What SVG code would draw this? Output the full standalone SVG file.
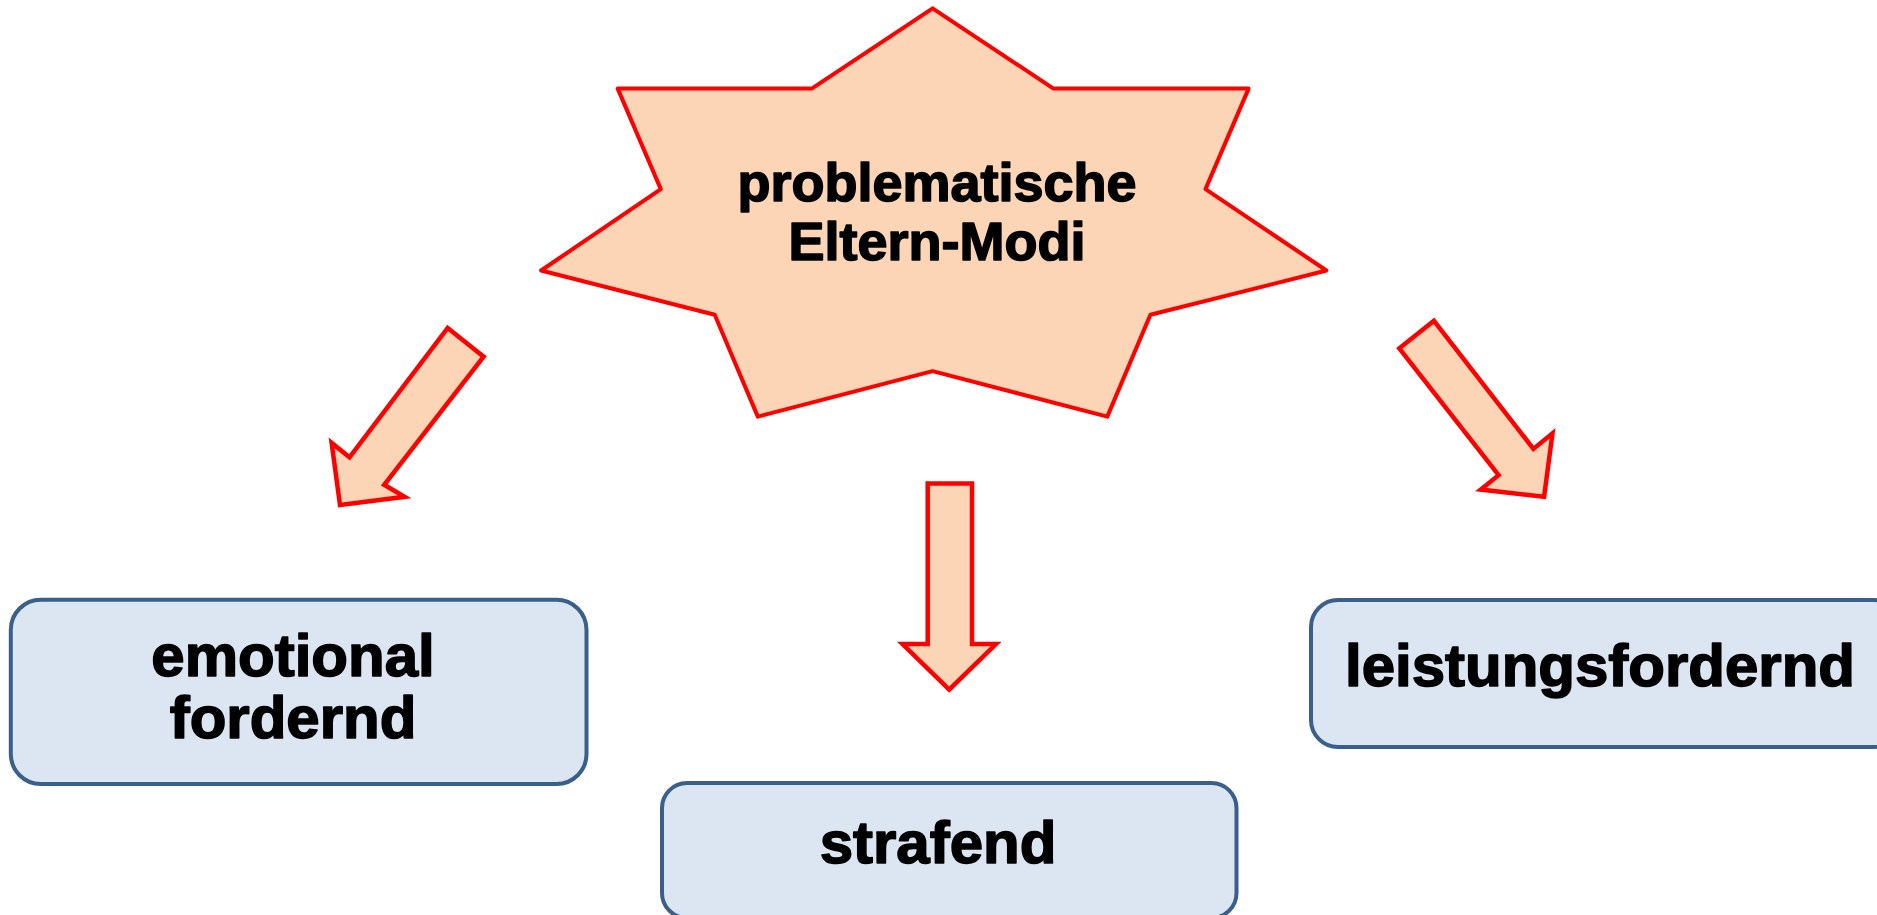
<svg xmlns="http://www.w3.org/2000/svg" width="1877" height="915" viewBox="0 0 1877 915">
  <style>
    .burst { fill: #FBD5B5; stroke: #FF0000; stroke-width: 4; stroke-linejoin: round; }
    .arrow { fill: #FBD5B5; stroke: #FF0000; stroke-width: 4.5; stroke-linejoin: miter; }
    .box { fill: #DCE6F2; stroke: #3A5F8B; stroke-width: 4; }
    .label { font-family: "Liberation Sans", Arial, sans-serif; font-weight: bold; fill: #000000; stroke: #000000; stroke-width: 1.6; stroke-linejoin: round; text-anchor: middle; }
  </style>
  <rect width="1877" height="915" fill="#FFFFFF"/>

  <!-- central burst -->
  <g id="node-center">
    <polygon class="burst" points="932.6,8.4 1053.5,88.6 1248.6,88.6 1205.5,189.1 1326.4,270.5 1150.4,314.8 1107.3,416.6 932.6,371.1 757.8,416.6 714.7,314.8 541.1,270.5 660.8,189.1 617.7,88.6 811.7,88.6"/>
    <text class="label" x="937" y="201" font-size="54">problematische</text>
    <text class="label" x="937" y="260" font-size="54">Eltern-Modi</text>
  </g>

  <!-- block arrows -->
  <g id="connectors">
    <polygon class="arrow" points="447.7,328 483.6,356.7 384.2,484.8 404.6,496.8 340,505.1 331.6,442.9 349.5,457.3"/>
    <polygon class="arrow" points="927.7,483.6 972,483.6 972,644 996,644 949.2,689.5 902.5,644 927.7,644"/>
    <polygon class="arrow" points="1434,320.8 1533.4,448.9 1552.5,433.3 1544.1,496.8 1480.7,489.6 1498.6,475.2 1399.3,348.3"/>
  </g>

  <g id="node-emotional">
    <rect class="box" x="10.8" y="599.7" width="575.7" height="184.3" rx="30"/>
    <text class="label" x="293" y="676" font-size="60">emotional</text>
    <text class="label" x="293" y="738" font-size="60">fordernd</text>
  </g>

  <g id="node-strafend">
    <rect class="box" x="662" y="783" width="574.5" height="135" rx="25"/>
    <text class="label" x="938" y="863" font-size="60">strafend</text>
  </g>

  <g id="node-leistung">
    <rect class="box" x="1311" y="600" width="590" height="147" rx="27"/>
    <text class="label" x="1600" y="686" font-size="60">leistungsfordernd</text>
  </g>
</svg>
